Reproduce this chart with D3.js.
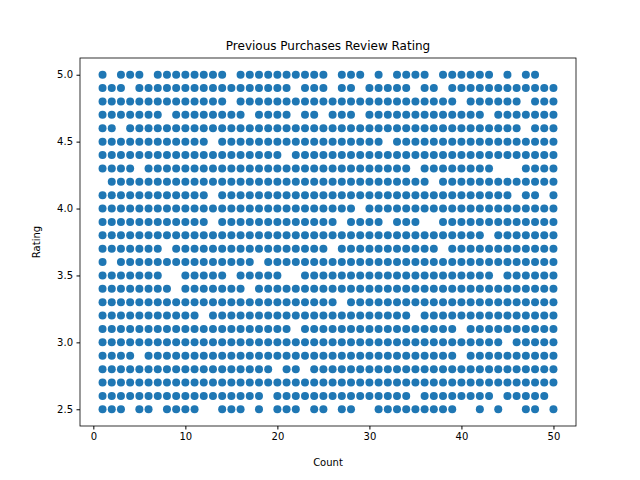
<!DOCTYPE html>
<html>
<head>
<meta charset="utf-8">
<script src="https://cdn.jsdelivr.net/npm/d3@7"></script>
<style>
  body { margin: 0; background: #fff; }
  text { font-family: "DejaVu Sans", sans-serif; }
</style>
</head>
<body>
<svg id="chart" width="640" height="480"></svg>
<script>
// counts run 1..50, ratings 2.5..5.0
var counts = d3.range(1, 51);
var ratings = [5.0, 4.9, 4.8, 4.7, 4.6, 4.5, 4.4, 4.3, 4.2, 4.1, 4.0, 3.9, 3.8,
               3.7, 3.6, 3.5, 3.4, 3.3, 3.2, 3.1, 3.0, 2.9, 2.8, 2.7, 2.6, 2.5];
// counts with no point, per rating row (same order as ratings)
var missing = [
  [2, 6, 15, 26, 30, 32, 37, 44, 46, 49, 50],
  [4, 22, 26, 29, 35, 38],
  [15, 40, 47],
  [8, 17, 22, 25, 29, 43],
  [3, 47],
  [13, 32],
  [21],
  [5, 35, 44, 45, 46],
  [1, 37],
  [13, 46, 49],
  [29],
  [13, 27, 32, 36, 37],
  [43],
  [8, 26, 38],
  [2, 18],
  [8, 9, 15, 21, 22, 44],
  [9, 17],
  [27],
  [12, 35],
  [22, 40],
  [45],
  [5, 40],
  [20, 23],
  [],
  [19, 35, 44, 50],
  [4, 7, 12, 13, 17, 19, 23, 26, 29, 30, 40, 41, 43, 45, 46, 49]
];
var xTicks = [0, 10, 20, 30, 40, 50];
var yTicks = [2.5, 3.0, 3.5, 4.0, 4.5, 5.0];

var points = [];
ratings.forEach(function(r, i) {
    counts.forEach(function(c) {
        if (missing[i].indexOf(c) < 0) points.push({ count: c, rating: r });
    });
});

var plotLeft = 80, plotRight = 576, plotTop = 58, plotBottom = 426;
var svg = d3.select('#chart');

var x = d3.scaleLinear().domain([1 - 49 * 0.05, 50 + 49 * 0.05]).range([plotLeft, plotRight]);
var y = d3.scaleLinear().domain([2.5 - 2.5 * 0.05, 5.0 + 2.5 * 0.05]).range([plotBottom, plotTop]);

svg.append('g')
    .selectAll('circle')
    .data(points)
    .enter().append('circle')
    .attr('cx', function(d) { return x(d.count); })
    .attr('cy', function(d) { return y(d.rating); })
    .attr('r', 4)
    .attr('fill', '#1f77b4');

var xAxis = svg.append('g')
    .attr('transform', 'translate(0,' + plotBottom + ')')
    .call(d3.axisBottom(x).tickValues(xTicks).tickSize(3.5).tickPadding(3.5));
var yAxis = svg.append('g')
    .attr('transform', 'translate(' + plotLeft + ',0)')
    .call(d3.axisLeft(y).tickValues(yTicks).tickFormat(d3.format('.1f')).tickSize(3.5).tickPadding(3.5));
[xAxis, yAxis].forEach(function(a) {
    a.select('.domain').remove();
    a.selectAll('text').style('font-size', '10px').attr('fill', '#000')
        .style('font-family', '"DejaVu Sans", sans-serif');
    a.selectAll('line').attr('stroke', '#000');
});

svg.append('rect')
    .attr('x', plotLeft).attr('y', plotTop)
    .attr('width', plotRight - plotLeft).attr('height', plotBottom - plotTop)
    .attr('fill', 'none').attr('stroke', '#000').attr('stroke-width', 0.8);

svg.append('text')
    .attr('x', (plotLeft + plotRight) / 2).attr('y', plotTop - 8)
    .attr('text-anchor', 'middle').style('font-size', '12px')
    .text('Previous Purchases Review Rating');
svg.append('text')
    .attr('x', (plotLeft + plotRight) / 2).attr('y', 466)
    .attr('text-anchor', 'middle').style('font-size', '10px')
    .text('Count');
svg.append('text')
    .attr('transform', 'translate(40,' + (plotTop + plotBottom) / 2 + ') rotate(-90)')
    .attr('text-anchor', 'middle').style('font-size', '10px')
    .text('Rating');
</script>
</body>
</html>
